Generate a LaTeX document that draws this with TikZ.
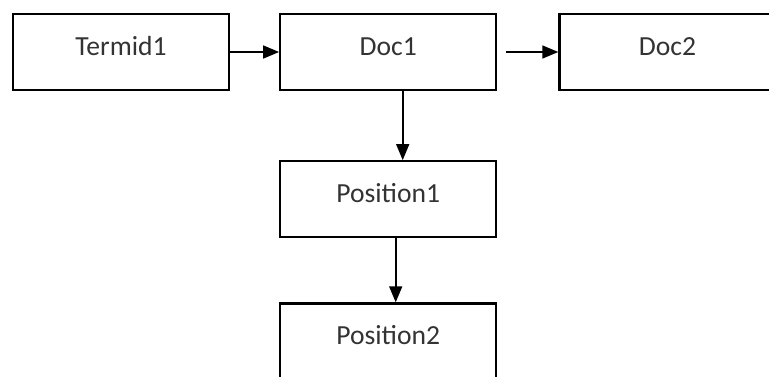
\documentclass[tikz,border=0pt]{standalone}
\usepackage{fontspec}
\setmainfont{Carlito}
\usetikzlibrary{positioning, arrows.meta}

\begin{document}
\begin{tikzpicture}[
    node distance=34.5pt and 25pt, % default vertical and horizontal node distance
    listbox/.style={draw, line width=1.1pt, minimum width=108pt, minimum height=38pt, inner sep=0pt,
        font=\fontsize{13.8}{16}\selectfont, text=black!80, text height=9pt, text depth=6pt},
    arr/.style={line width=0.8pt, -{Triangle[length=8pt, width=6.5pt]}}
]

% Frame of the picture
\useasboundingbox (0,0) rectangle (384.5pt,-188pt);

% Term and document line
\node (termid) [listbox] at (60.5pt,-26pt) {Termid1};
\node (doc1) [listbox, right=24.5pt of termid] {Doc1};
\node (doc2) [listbox, right=30.5pt of doc1] {Doc2};

% Position list below Doc1
\node (pos1) [listbox, below=34.5pt of doc1] {Position1};
\node (pos2) [listbox, below=32pt of pos1] {Position2};

% Arrows
\draw[arr] (termid.east) -- (doc1.west);
\draw[arr] ([xshift=4.5pt]doc1.east) -- (doc2.west);
\draw[arr] ([xshift=7.25pt]doc1.south) -- ([xshift=7.25pt]pos1.north);
\draw[arr] ([xshift=3.75pt]pos1.south) -- ([xshift=3.75pt]pos2.north);

\end{tikzpicture}
\end{document}
